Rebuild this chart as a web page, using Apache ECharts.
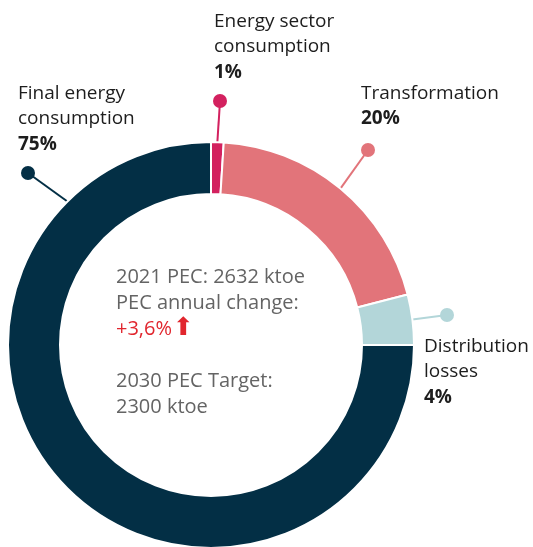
<!DOCTYPE html>
<html>
<head>
<meta charset="utf-8">
<script src="https://cdn.jsdelivr.net/npm/echarts@6/dist/echarts.min.js"></script>
<style>
  html, body { margin: 0; padding: 0; background: #fff; }
  #chart { width: 533px; height: 547px; }
</style>
</head>
<body>
<div id="chart"></div>
<script>
  // data
  var names = ['Energy sector\nconsumption', 'Transformation', 'Distribution\nlosses', 'Final energy\nconsumption'];
  var shares = [1, 20, 4, 75]; // %
  var colors = ['#d3215f', '#e2747a', '#b3d6d9', '#032f45'];
  var pecLines = ['2021 PEC: 2632 ktoe', 'PEC annual change:'];
  var pecChange = '+3,6%';
  var targetLines = ['2030 PEC Target:', '2300 ktoe'];

  // layout
  var cx = 211, cy = 345, rIn = 151, rOut = 203;
  var dots = [[220, 101], [368, 150], [447, 315], [28, 173]];   // end of the leader lines
  var textPos = [[214, 12], [361, 84], [424, 337], [18, 84]];   // label text blocks
  var anchorOverride = { 3: 315 }; // final energy line leaves the ring top-left

  var font = '"Open Sans", "Noto Sans", sans-serif';
  var total = shares.reduce(function (a, b) { return a + b; }, 0);

  // angle (deg, clockwise from 12 o'clock) where each leader line starts
  var anchors = [];
  var acc = 0;
  shares.forEach(function (v, i) {
    anchors.push(anchorOverride[i] !== undefined ? anchorOverride[i] : (acc + v / 2) / total * 360);
    acc += v;
  });

  var myChart = echarts.init(document.getElementById('chart'));

  var option = {
    backgroundColor: '#fff',
    animation: false,
    series: [{
      type: 'pie',
      silent: true,
      center: [cx, cy],
      radius: [rIn, rOut],
      startAngle: 90,
      clockwise: true,
      avoidLabelOverlap: false,
      minShowLabelAngle: 0,
      itemStyle: { borderColor: '#fff', borderWidth: 2 },
      label: {
        show: true,
        position: 'outside',
        formatter: '{d|}'
      },
      labelLine: { show: true, length: 10, length2: 10, lineStyle: { width: 2 } },
      labelLayout: function (p) {
        var i = p.dataIndex;
        var a = anchors[i] * Math.PI / 180;
        var sx = cx + rOut * Math.sin(a), sy = cy - rOut * Math.cos(a);
        var d = dots[i];
        return {
          x: d[0], y: d[1], align: 'center', verticalAlign: 'middle',
          labelLinePoints: [[sx, sy], [sx, sy], [d[0], d[1]]]
        };
      },
      data: shares.map(function (v, i) {
        return {
          value: v,
          name: names[i],
          itemStyle: { color: colors[i] },
          label: { rich: { d: { width: 14, height: 14, borderRadius: 7, backgroundColor: colors[i] } } },
          labelLine: { lineStyle: { color: colors[i], width: 2 } }
        };
      })
    }],
    graphic: names.map(function (n, i) {
      var txt = n.split('\n').map(function (s) { return '{n|' + s + '}'; }).join('\n') + '\n{v|' + shares[i] + '%}';
      return {
        type: 'text', left: textPos[i][0], top: textPos[i][1], silent: true,
        style: {
          text: txt,
          rich: {
            n: { fontFamily: font, fontSize: 19, fill: '#1d1d1d', lineHeight: 25.5 },
            v: { fontFamily: font, fontSize: 19, fontWeight: 'bold', fill: '#1d1d1d', lineHeight: 25.5 }
          }
        }
      };
    }).concat([{
      type: 'text', left: 116, top: 267, silent: true,
      style: {
        text: pecLines.map(function (s) { return '{g|' + s + '}'; }).join('\n') +
          '\n{r|' + pecChange + '}{a|⬆}\n{g| }\n' +
          targetLines.map(function (s) { return '{g|' + s + '}'; }).join('\n'),
        rich: {
          g: { fontFamily: font, fontSize: 20, fill: '#646464', lineHeight: 26 },
          r: { fontFamily: font, fontSize: 20, fill: '#e1262e', lineHeight: 26 },
          a: { fontFamily: '"DejaVu Sans", sans-serif', fontSize: 25, fill: '#e1262e', lineHeight: 26, padding: [0, 0, 2, 1] }
        }
      }
    }])
  };

  myChart.setOption(option);
</script>
</body>
</html>
